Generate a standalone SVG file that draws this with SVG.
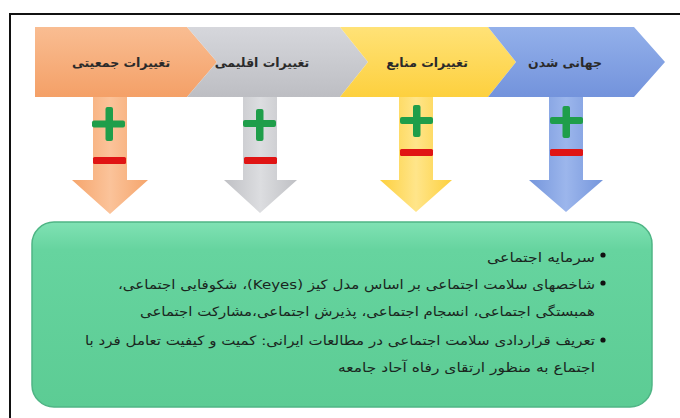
<svg xmlns="http://www.w3.org/2000/svg" width="680" height="418" viewBox="0 0 680 418">
<defs>
<style>
.lbl{font-family:"DejaVu Sans","Noto Sans",sans-serif;font-size:12.5px;font-weight:bold;fill:#2a2a2a;text-anchor:middle}
.body{font-family:"DejaVu Sans","Noto Sans",sans-serif;font-size:13px;fill:#1a261e;direction:rtl;text-anchor:start}
.plus{fill:#1f9e4a}
.minus{fill:#e01414}
</style>
<linearGradient id="gO" x1="0" y1="0" x2="0" y2="1"><stop offset="0" stop-color="#f9bd92"/><stop offset="1" stop-color="#f4a067"/></linearGradient>
<linearGradient id="gG" x1="0" y1="0" x2="0" y2="1"><stop offset="0" stop-color="#d6d7dc"/><stop offset="1" stop-color="#bdbec3"/></linearGradient>
<linearGradient id="gY" x1="0" y1="0" x2="0" y2="1"><stop offset="0" stop-color="#ffe277"/><stop offset="1" stop-color="#fdd03e"/></linearGradient>
<linearGradient id="gB" x1="0" y1="0" x2="0" y2="1"><stop offset="0" stop-color="#93b0ea"/><stop offset="1" stop-color="#7393dc"/></linearGradient>
<linearGradient id="aO" x1="0" y1="0" x2="1" y2="0"><stop offset="0" stop-color="#f5a56c"/><stop offset="0.5" stop-color="#fbc39a"/><stop offset="1" stop-color="#f5a56c"/></linearGradient>
<linearGradient id="aG" x1="0" y1="0" x2="1" y2="0"><stop offset="0" stop-color="#bfc0c4"/><stop offset="0.5" stop-color="#dcdde0"/><stop offset="1" stop-color="#bfc0c4"/></linearGradient>
<linearGradient id="aY" x1="0" y1="0" x2="1" y2="0"><stop offset="0" stop-color="#fdd03e"/><stop offset="0.5" stop-color="#ffe58a"/><stop offset="1" stop-color="#fdd03e"/></linearGradient>
<linearGradient id="aB" x1="0" y1="0" x2="1" y2="0"><stop offset="0" stop-color="#7596dc"/><stop offset="0.5" stop-color="#9cb6ec"/><stop offset="1" stop-color="#7596dc"/></linearGradient>
<linearGradient id="gBox" x1="0" y1="0" x2="0" y2="1"><stop offset="0" stop-color="#80e2b4"/><stop offset="0.15" stop-color="#66d49f"/><stop offset="1" stop-color="#5ccc94"/></linearGradient>
</defs>
<rect x="0" y="0" width="680" height="418" fill="#ffffff"/>
<path d="M10 420 V14 H682" fill="none" stroke="#111" stroke-width="2"/>

<g id="connectors">
<g id="arrow-1">
<polygon points="93,97 127,97 127,180 148,180 110,214 72,180 93,180" fill="url(#aO)"/>
<rect class="plus" x="92" y="120.5" width="33" height="7" rx="2"/>
<rect class="plus" x="105.5" y="107" width="7.5" height="34" rx="2"/>
<rect class="minus" x="93" y="157" width="33" height="7" rx="1.5"/>
</g>
<g id="arrow-2">
<polygon points="243,97 277,97 277,180 297,180 260,213 224,180 243,180" fill="url(#aG)"/>
<rect class="plus" x="243" y="120" width="33" height="7" rx="2"/>
<rect class="plus" x="256" y="109" width="7.5" height="32" rx="2"/>
<rect class="minus" x="244" y="157" width="33" height="7" rx="1.5"/>
</g>
<g id="arrow-3">
<polygon points="399,97 433,97 433,180 452,180 416,212 380,180 399,180" fill="url(#aY)"/>
<rect class="plus" x="400" y="117" width="33" height="7" rx="2"/>
<rect class="plus" x="413" y="105" width="7.5" height="32" rx="2"/>
<rect class="minus" x="400" y="149" width="33" height="7" rx="1.5"/>
</g>
<g id="arrow-4">
<polygon points="549,97 583,97 583,180 603,180 566,212 529,180 549,180" fill="url(#aB)"/>
<rect class="plus" x="550" y="117" width="33" height="7" rx="2"/>
<rect class="plus" x="562.5" y="106" width="7.5" height="32" rx="2"/>
<rect class="minus" x="550" y="149" width="33" height="7" rx="1.5"/>
</g>
</g>

<g id="node-population">
<polygon points="35,27 187,27 217,62 187,97 35,97" fill="url(#gO)"/>
<text class="lbl" x="121" y="67">تغییرات جمعیتی</text>
</g>
<g id="node-climate">
<polygon points="187,27 340,27 368,62 340,97 187,97 217,62" fill="url(#gG)"/>
<text class="lbl" x="262" y="67">تغییرات اقلیمی</text>
</g>
<g id="node-resources">
<polygon points="340,27 488,27 516,62 488,97 340,97 368,62" fill="url(#gY)"/>
<text class="lbl" x="427" y="67">تغییرات منابع</text>
</g>
<g id="node-globalization">
<polygon points="488,27 634,27 665,62 634,97 488,97 516,62" fill="url(#gB)"/>
<text class="lbl" x="565" y="67">جهانی شدن</text>
</g>

<g id="node-summary">
<rect x="32" y="222" width="620" height="185" rx="22" fill="url(#gBox)" stroke="#4fb585" stroke-width="1.5"/>
<circle cx="603" cy="255" r="2.6" fill="#111"/>
<circle cx="603" cy="283" r="2.6" fill="#111"/>
<circle cx="603" cy="340" r="2.6" fill="#111"/>
<text class="body" x="595" y="262" textLength="108" lengthAdjust="spacingAndGlyphs">سرمایه اجتماعی</text>
<text class="body" x="595" y="289" textLength="477" lengthAdjust="spacingAndGlyphs">شاخصهای سلامت اجتماعی بر اساس مدل کیز (Keyes)، شکوفایی اجتماعی،</text>
<text class="body" x="595" y="316" textLength="455" lengthAdjust="spacingAndGlyphs">همبستگی اجتماعی، انسجام اجتماعی، پذیرش اجتماعی،مشارکت اجتماعی</text>
<text class="body" x="595" y="345" textLength="510" lengthAdjust="spacingAndGlyphs">تعریف قراردادی سلامت اجتماعی در مطالعات ایرانی: کمیت و کیفیت تعامل فرد با</text>
<text class="body" x="595" y="372" textLength="257" lengthAdjust="spacingAndGlyphs">اجتماع به منظور ارتقای رفاه آحاد جامعه</text>
</g>
</svg>
